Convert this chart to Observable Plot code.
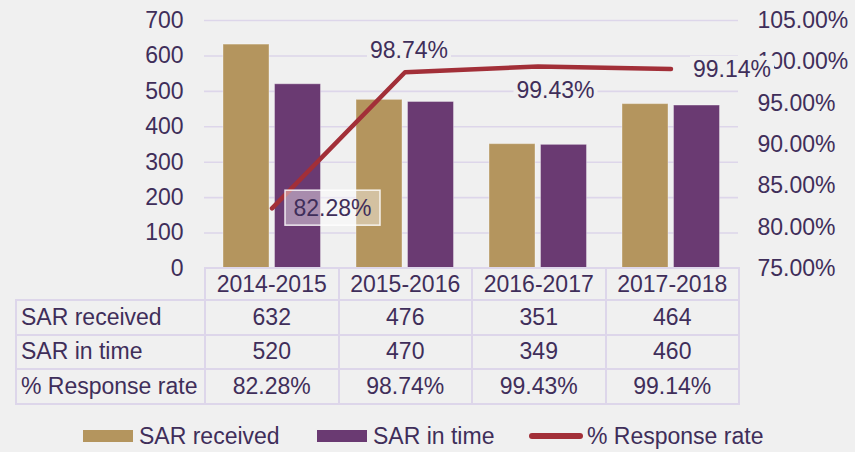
<!DOCTYPE html>
<html>
<head>
<meta charset="utf-8">
<script src="https://cdn.jsdelivr.net/npm/d3@7"></script>
<script src="https://cdn.jsdelivr.net/npm/@observablehq/plot@0.6"></script>
<style>
  html, body { margin: 0; padding: 0; background: #f0f0f0; }
  #wrap { position: relative; width: 855px; height: 452px; overflow: hidden;
          font-family: "Liberation Sans", Arial, sans-serif; color: #3f2e5a; background: #f0f0f0; }
  #wrap svg { position: absolute; left: 0; top: 0; overflow: visible; }
  table.dt { position: absolute; left: 15px; top: 267px; border-collapse: collapse; table-layout: fixed;
             font-size: 23px; color: #3f2e5a; }
  table.dt td { border: 2px solid #ddd6ea; padding: 0; text-align: center; white-space: nowrap;
                vertical-align: middle; line-height: 1; }
  table.dt td.lab { text-align: left; padding-left: 4px; }
  table.dt tr.head td { height: 30px; }
  table.dt tr.body td { height: 32.5px; }
  table.dt tr.head td.empty { border-top: none; border-left: none; }
  .lg { position: absolute; top: 424px; height: 24px; display: flex; align-items: center;
        font-size: 23px; color: #3f2e5a; white-space: nowrap; }
  .lg .sw { width: 50px; height: 12px; margin-right: 6px; }
  .lg .ln { width: 54px; height: 6px; border-radius: 3px; margin-right: 4px; }
</style>
</head>
<body>
<div id="wrap"></div>
<script>
// ---- data ----
const categories = ["2014-2015", "2015-2016", "2016-2017", "2017-2018"];
const sarReceived = [632, 476, 351, 464];
const sarInTime = [520, 470, 349, 460];
const responseRate = [82.28, 98.74, 99.43, 99.14];
const leftTicks = [0, 100, 200, 300, 400, 500, 600, 700];
const rightTicks = [75, 80, 85, 90, 95, 100, 105];
const seriesNames = ["SAR received", "SAR in time", "% Response rate"];

// ---- styles ----
const gold = "#b4955e", purple = "#6a3a72", red = "#a22f38", ink = "#3f2e5a", grid = "#ddd6ea";
const FS = 23;

const rows = categories.map((c, i) => ({category: c, received: sarReceived[i], inTime: sarInTime[i], rate: responseRate[i]}));
const toLeft = p => (p - 75) / 30 * 700;          // right axis (percent) -> left axis units
const fromLeft = v => v / 700 * 30 + 75;
const fmt = v => v.toFixed(2) + "%";

const labelMark = (i, opts) => Plot.text([rows[i]], {
  x: "category", y: d => toLeft(d.rate), text: d => fmt(d.rate),
  fontSize: FS, fill: ink, ...opts
});

const chart = Plot.plot({
  width: 855, height: 275,
  marginLeft: 204, marginRight: 117, marginTop: 20, marginBottom: 7,
  style: {background: "transparent", fontFamily: "'Liberation Sans', Arial, sans-serif", fontSize: FS + "px", color: ink, overflow: "visible"},
  x: {domain: categories, padding: 0, axis: null},
  y: {domain: [0, 700], axis: null},
  marks: [
    Plot.gridY(leftTicks.filter(t => t > 0), {stroke: grid, strokeOpacity: 1, strokeWidth: 1.6}),
    Plot.axisY(leftTicks, {anchor: "left", tickSize: 0, tickPadding: 21, fontSize: FS, fill: ink}),
    Plot.axisY(rightTicks.map(toLeft), {anchor: "right", tickSize: 0, tickPadding: 19, fontSize: FS, fill: ink,
      tickFormat: v => fmt(fromLeft(v)), textAnchor: "start"}),
    Plot.barY(rows, {x: "category", y: "received", fill: gold, insetLeft: 18, insetRight: 69,
      stroke: "#ffffff", strokeOpacity: 0.35, strokeWidth: 1}),
    Plot.barY(rows, {x: "category", y: "inTime", fill: purple, insetLeft: 69.5, insetRight: 17.5,
      stroke: "#ffffff", strokeOpacity: 0.35, strokeWidth: 1}),
    Plot.line(rows, {x: "category", y: d => toLeft(d.rate), stroke: red, strokeWidth: 4.5,
      strokeLinecap: "round", strokeLinejoin: "round"}),
    labelMark(0, {dx: 60.5, dy: 0}),
    labelMark(1, {dx: 4, dy: -22}),
    labelMark(2, {dx: 17.5, dy: 24.5}),
    labelMark(3, {dx: 22, dy: 0.5, textAnchor: "start"})
  ]
});

const wrap = document.getElementById("wrap");
wrap.appendChild(chart);

// label backgrounds
const labelGroups = chart.querySelectorAll('g[aria-label="text"]');
labelGroups.forEach((g, k) => {
  const t = g.querySelector("text");
  if (!t) return;
  const b = t.getBBox();
  const r = document.createElementNS("http://www.w3.org/2000/svg", "rect");
  const px = 8.5, py = 4.5;
  r.setAttribute("x", b.x - px);
  r.setAttribute("y", b.y - py);
  r.setAttribute("width", b.width + 2 * px);
  r.setAttribute("height", b.height + 2 * py);
  if (t.getAttribute("transform")) r.setAttribute("transform", t.getAttribute("transform"));
  if (k === 0) {
    r.setAttribute("fill", "#ffffff"); r.setAttribute("fill-opacity", "0.42");
    r.setAttribute("stroke", "#ffffff"); r.setAttribute("stroke-opacity", "0.85"); r.setAttribute("stroke-width", "1.5");
  } else {
    r.setAttribute("x", b.x - 3);
    r.setAttribute("width", b.width + 6);
    r.setAttribute("y", b.y);
    r.setAttribute("height", b.height);
    r.setAttribute("fill", "#f0f0f0");
  }
  t.parentNode.insertBefore(r, t);
});

// data table
const table = document.createElement("table");
table.className = "dt";
const colgroup = document.createElement("colgroup");
[189, 133.5, 133.5, 133.5, 133.5].forEach(w => {
  const c = document.createElement("col"); c.style.width = w + "px"; colgroup.appendChild(c);
});
table.appendChild(colgroup);
const tableRows = [
  ["", ...categories],
  [seriesNames[0], ...sarReceived.map(String)],
  [seriesNames[1], ...sarInTime.map(String)],
  [seriesNames[2], ...responseRate.map(fmt)]
];
tableRows.forEach((r, ri) => {
  const tr = document.createElement("tr");
  tr.className = ri === 0 ? "head" : "body";
  r.forEach((v, ci) => {
    const td = document.createElement("td");
    td.textContent = v;
    if (ci === 0) td.className = ri === 0 ? "empty" : "lab";
    tr.appendChild(td);
  });
  table.appendChild(tr);
});
wrap.appendChild(table);

// legend
const legendItems = [
  {name: seriesNames[0], kind: "sw", color: gold, left: 83},
  {name: seriesNames[1], kind: "sw", color: purple, left: 317},
  {name: seriesNames[2], kind: "ln", color: red, left: 529}
];
legendItems.forEach(it => {
  const d = document.createElement("div");
  d.className = "lg";
  d.style.left = it.left + "px";
  const s = document.createElement("div");
  s.className = it.kind;
  s.style.background = it.color;
  const t = document.createElement("span");
  t.textContent = it.name;
  d.appendChild(s); d.appendChild(t);
  wrap.appendChild(d);
});
</script>
</body>
</html>
